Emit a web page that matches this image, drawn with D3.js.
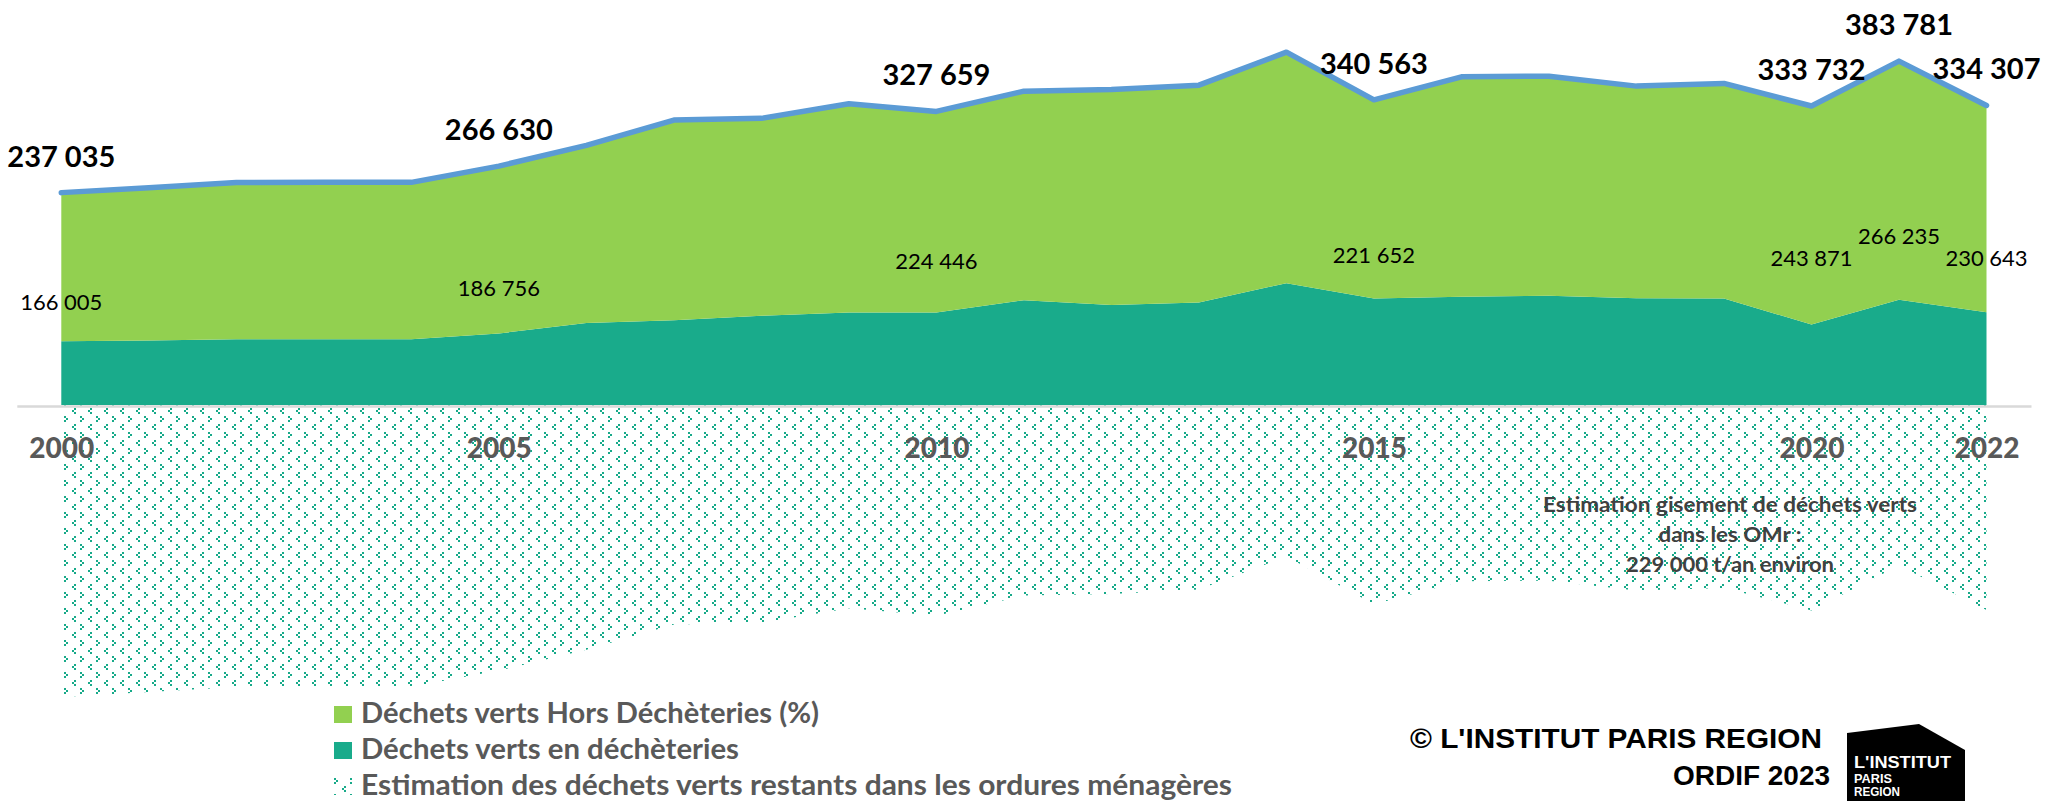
<!DOCTYPE html>
<html>
<head>
<meta charset="utf-8">
<script src="https://cdn.jsdelivr.net/npm/d3@7/dist/d3.min.js"></script>
<style>
	body { margin: 0; background: #ffffff; }
	svg { display: block; }
</style>
</head>
<body>
<div id="chart"></div>
<script>

// Data (tonnes / year)
//
var years = [ 2000, 2001, 2002, 2003, 2004, 2005, 2006, 2007, 2008, 2009, 2010, 2011,
	2012, 2013, 2014, 2015, 2016, 2017, 2018, 2019, 2020, 2021, 2022 ];

var decheteries = [ 71030, 72000, 73500, 73500, 73500, 79874, 91400, 94700, 99600, 103300, 103213, 117000,
	111500, 114400, 136000, 118911, 120700, 121900, 119200, 118900, 89861, 117546, 103664 ];

var horsDecheteries = [ 166005, 170600, 174700, 175000, 175000, 186756, 198400, 223300, 220300, 232900, 224446, 233300,
	240700, 242600, 257800, 221652, 245600, 245100, 236700, 240000, 243871, 266235, 230643 ];

var orduresMenageres = [ 326000, 320400, 314800, 314500, 314500, 296400, 273200, 245000, 243100, 226800, 235300, 212700,
	210800, 206000, 169200, 222400, 196700, 196000, 207100, 204100, 229300, 179200, 228700 ];

var labelYears = [ 2000, 2005, 2010, 2015, 2020, 2021, 2022 ];
var tickYears = [ 2000, 2005, 2010, 2015, 2020, 2022 ];

var seriesNames = [
	"Déchets verts Hors Déchèteries (%)",
	"Déchets verts en déchèteries",
	"Estimation des déchets verts restants dans les ordures ménagères"
];
var noteLines = [ "Estimation gisement de déchets verts", "dans les OMr :", "229 000 t/an environ" ];
var creditLines = [ "© L'INSTITUT PARIS REGION", "ORDIF 2023" ];
var logoLines = [ "L'INSTITUT", "PARIS", "REGION" ];

var colors = {
	hors: "#92d050",
	dech: "#19ab8b",
	hatch: "#17aa89",
	line: "#5b9bd5",
	axis: "#d9d9d9",
	grey: "#595959"
};

var width = 2046;
var height = 801;
var bodyFont = "Lato, 'Open Sans', sans-serif";

var fr = d3.formatLocale( { decimal: ",", thousands: " ", grouping: [ 3 ], currency: [ "", " €" ] } );
var fmt = fr.format( ",d" );

var fitWidth = function( selection, w )
{
	selection.attr( "textLength", w ).attr( "lengthAdjust", "spacingAndGlyphs" );
};

var rows = years.map( function( year, i ) {
	return { year: year, dech: decheteries[ i ], hors: horsDecheteries[ i ], omr: orduresMenageres[ i ] };
} );

var stacked = d3.stack().keys( [ "dech", "hors" ] )( rows );
var topOf = function( i ) { return stacked[ 1 ][ i ][ 1 ]; };

var svg = d3.select( "#chart" ).append( "svg" )
	.attr( "width", width )
	.attr( "height", height );

svg.append( "rect" ).attr( "width", width ).attr( "height", height ).attr( "fill", "#ffffff" );

// Hatch pattern ( small chevrons )
//
var defs = svg.append( "defs" );
var pattern = defs.append( "pattern" )
	.attr( "id", "hatch" )
	.attr( "patternUnits", "userSpaceOnUse" )
	.attr( "width", 16 )
	.attr( "height", 16 );

[ [ 0, 0 ], [ 2, 2 ], [ 0, 4 ], [ 10, 8 ], [ 8, 10 ], [ 10, 12 ] ].forEach( function( p ) {
	pattern.append( "rect" )
		.attr( "x", p[ 0 ] ).attr( "y", p[ 1 ] )
		.attr( "width", 2 ).attr( "height", 2 )
		.attr( "fill", colors.hatch );
} );

var x = d3.scaleLinear()
	.domain( [ 2000, 2022 ] )
	.range( [ 61.3, 1986.5 ] );

var y = d3.scaleLinear()
	.domain( [ -330000, 450000 ] )
	.range( [ 700.7, 1.8 ] );

// Estimated remainder in household waste, drawn below zero
//
var omrArea = d3.area()
	.x( function( d ) { return x( d.year ); } )
	.y0( y( 0 ) )
	.y1( function( d ) { return y( -d.omr ); } );

svg.append( "path" )
	.datum( rows )
	.attr( "d", omrArea )
	.attr( "fill", "url(#hatch)" );

// Stacked areas
//
var area = d3.area()
	.x( function( d ) { return x( d.data.year ); } )
	.y0( function( d ) { return y( d[ 0 ] ); } )
	.y1( function( d ) { return y( d[ 1 ] ); } );

svg.append( "g" )
	.selectAll( "path" )
	.data( stacked )
	.enter()
	.append( "path" )
	.attr( "d", area )
	.attr( "fill", function( s ) { return s.key == "dech" ? colors.dech : colors.hors; } );

// Axis
//
svg.append( "line" )
	.attr( "x1", x( 2000 ) - 44 )
	.attr( "x2", x( 2022 ) + 45 )
	.attr( "y1", y( 0 ) + 1.5 )
	.attr( "y2", y( 0 ) + 1.5 )
	.attr( "stroke", colors.axis )
	.attr( "stroke-width", 2.5 );

var axis = svg.append( "g" )
	.attr( "transform", "translate(0," + y( 0 ) + ")" )
	.call( d3.axisBottom( x ).tickValues( tickYears ).tickFormat( d3.format( "d" ) ).tickSize( 0 ) );

axis.select( ".domain" ).remove();
axis.selectAll( "text" )
	.attr( "y", 53 )
	.attr( "dy", 0 )
	.attr( "fill", colors.grey )
	.style( "font", "900 28px " + bodyFont );

// Total line
//
var line = d3.line()
	.x( function( d, i ) { return x( d.year ); } )
	.y( function( d, i ) { return y( topOf( i ) ); } );

svg.append( "path" )
	.datum( rows )
	.attr( "d", line )
	.attr( "fill", "none" )
	.attr( "stroke", colors.line )
	.attr( "stroke-width", 5.5 )
	.attr( "stroke-linejoin", "round" )
	.attr( "stroke-linecap", "round" );

// Data labels
//
var labelled = labelYears.map( function( year ) { return years.indexOf( year ); } );

svg.append( "g" )
	.selectAll( "text" )
	.data( labelled )
	.enter()
	.append( "text" )
	.attr( "x", function( i ) { return x( years[ i ] ); } )
	.attr( "y", function( i ) { return y( topOf( i ) ) - 26; } )
	.attr( "text-anchor", "middle" )
	.attr( "fill", "#000000" )
	.style( "font", "bold 29px " + bodyFont )
	.text( function( i ) { return fmt( topOf( i ) ); } );

svg.append( "g" )
	.selectAll( "text" )
	.data( labelled )
	.enter()
	.append( "text" )
	.attr( "x", function( i ) { return x( years[ i ] ); } )
	.attr( "y", function( i ) { return y( topOf( i ) / 2 ) + 3; } )
	.attr( "dy", "0.35em" )
	.attr( "text-anchor", "middle" )
	.attr( "fill", "#000000" )
	.style( "font", "22px " + bodyFont )
	.text( function( i ) { return fmt( horsDecheteries[ i ] ); } );

// Note in the hatched area
//
var noteWidths = [ 374, 143, 208 ];
svg.append( "g" )
	.selectAll( "text" )
	.data( noteLines )
	.enter()
	.append( "text" )
	.attr( "x", 1730 )
	.attr( "y", function( d, i ) { return 512 + i * 30; } )
	.attr( "text-anchor", "middle" )
	.attr( "fill", "#404040" )
	.style( "font", "bold 21px " + bodyFont )
	.text( function( d ) { return d; } )
	.each( function( d, i ) { fitWidth( d3.select( this ), noteWidths[ i ] ); } );

// Legend
//
var legendWidths = [ 458, 378, 871 ];
var legendFills = [ colors.hors, colors.dech, "url(#hatch)" ];
var legend = svg.append( "g" )
	.selectAll( "g" )
	.data( seriesNames )
	.enter()
	.append( "g" )
	.attr( "transform", function( d, i ) { return "translate(334," + ( 706 + i * 36 ) + ")"; } );

legend.append( "rect" )
	.attr( "width", 18 )
	.attr( "height", 17 )
	.attr( "fill", function( d, i ) { return legendFills[ i ]; } );

legend.append( "text" )
	.attr( "x", 27 )
	.attr( "y", 17 )
	.attr( "fill", colors.grey )
	.style( "font", "bold 28px " + bodyFont )
	.text( function( d ) { return d; } )
	.each( function( d, i ) { fitWidth( d3.select( this ), legendWidths[ i ] ); } );

// Credits and logo
//
var creditPos = [ [ 1410, 748, 412 ], [ 1673, 785, 157 ] ];
svg.append( "g" )
	.selectAll( "text" )
	.data( creditLines )
	.enter()
	.append( "text" )
	.attr( "x", function( d, i ) { return creditPos[ i ][ 0 ]; } )
	.attr( "y", function( d, i ) { return creditPos[ i ][ 1 ]; } )
	.attr( "fill", "#000000" )
	.style( "font", "bold 28px 'Liberation Sans', Arial, sans-serif" )
	.text( function( d ) { return d; } )
	.each( function( d, i ) { fitWidth( d3.select( this ), creditPos[ i ][ 2 ] ); } );

svg.append( "polygon" )
	.attr( "points", "1847,733 1919,724 1965,750 1965,801 1847,801" )
	.attr( "fill", "#000000" );

var logoPos = [ [ 768, 16, 97 ], [ 783, 12, 38 ], [ 796, 12, 46 ] ];
svg.append( "g" )
	.selectAll( "text" )
	.data( logoLines )
	.enter()
	.append( "text" )
	.attr( "x", 1854 )
	.attr( "y", function( d, i ) { return logoPos[ i ][ 0 ]; } )
	.attr( "fill", "#ffffff" )
	.style( "font-family", "'Liberation Sans', Arial, sans-serif" )
	.style( "font-weight", "bold" )
	.style( "font-size", function( d, i ) { return logoPos[ i ][ 1 ] + "px"; } )
	.text( function( d ) { return d; } )
	.each( function( d, i ) { fitWidth( d3.select( this ), logoPos[ i ][ 2 ] ); } );

</script>
</body>
</html>
